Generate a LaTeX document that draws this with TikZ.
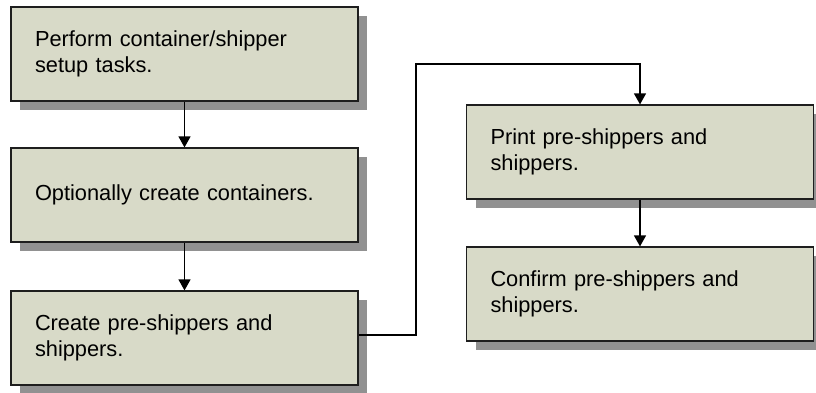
\documentclass[tikz,border=0pt]{standalone}
\usepackage{fontspec}
\setmainfont{Liberation Sans}
\usetikzlibrary{arrows.meta,shadows}
\definecolor{boxfill}{RGB}{216,218,200}
\definecolor{boxedge}{RGB}{30,30,30}
\definecolor{shadowgray}{RGB}{145,145,145}
\tikzset{
  taskbox/.style={draw=boxedge, line width=1.2pt, fill=boxfill,
    drop shadow={shadow xshift=9pt, shadow yshift=-9pt, fill=shadowgray, opacity=1},
    minimum width=347pt, minimum height=94pt, text width=299pt,
    inner xsep=24pt, inner ysep=0pt, align=left,
    font=\fontsize{21.8pt}{25.5pt}\selectfont},
  conn/.style={draw=black, line width=1.2pt, -{Triangle[width=12pt,length=11pt]}}
}
\begin{document}
\begin{tikzpicture}[x=1pt, y=-1pt]
  \useasboundingbox (0,0) rectangle (816,392);
  % left column of steps
  \node[taskbox] (b1) at (184.5,54) {Perform container/shipper\\setup tasks.};
  \node[taskbox] (b2) at (184.5,195) {Optionally create containers.};
  \node[taskbox] (b3) at (184.5,338) {Create pre-shippers and\\shippers.};
  % right column of steps
  \node[taskbox] (b4) at (640,152) {Print pre-shippers and\\shippers.};
  \node[taskbox] (b5) at (640,294) {Confirm pre-shippers and\\shippers.};
  % flow between the steps
  \coordinate (j1) at (416,64);
  \draw[conn] (b1) -- (b2);
  \draw[conn] (b2) -- (b3);
  \draw[conn] ([yshift=3pt]b3.east) -| (j1) -| (b4.north);
  \draw[conn] (b4) -- (b5);
\end{tikzpicture}
\end{document}
